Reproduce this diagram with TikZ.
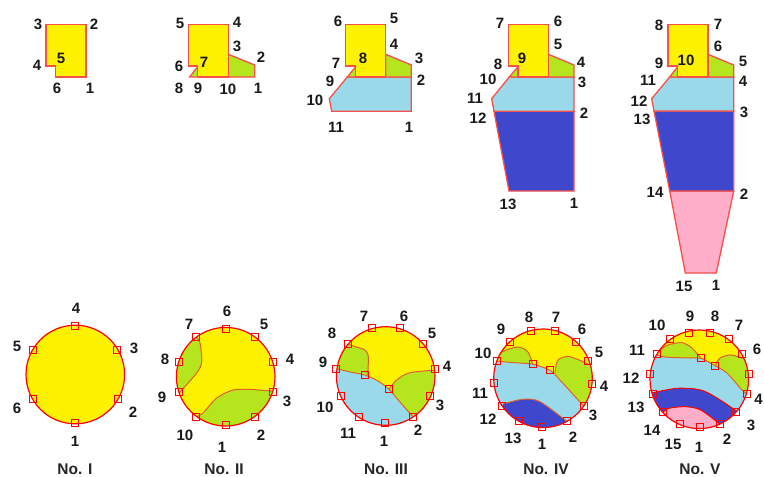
\documentclass[tikz,border=0pt]{standalone}
\usepackage{fontspec}
\setmainfont{Liberation Sans}
\definecolor{cy}{HTML}{FFF200}
\definecolor{cg}{HTML}{B5E61D}
\definecolor{cb}{HTML}{99D9EA}
\definecolor{cd}{HTML}{3F48CC}
\definecolor{cp}{HTML}{FFAEC9}
\definecolor{edgered}{HTML}{F5504A}
\definecolor{seam}{HTML}{E0602A}
\tikzset{
  lab/.style={font=\fontsize{15}{16}\selectfont\bfseries,text=black!90,inner sep=0pt},
  captext/.style={font=\fontsize{15.5}{16}\selectfont\bfseries,text=black!85,inner sep=0pt},
  sq/.style={draw=red,line width=1pt,minimum size=7.2pt,inner sep=0pt,rectangle},
  poly/.style={draw=edgered,line width=1.3pt,line join=miter},
  rim/.style={draw=red,line width=1.2pt},
  seamline/.style={draw=seam,line width=1pt}
}
\begin{document}
\begin{tikzpicture}[x=1pt,y=-1pt]
\useasboundingbox (0,0) rectangle (764,477);
\fill[white] (0,0) rectangle (764,477);
% ---- upper row: sections
% I
\filldraw[poly,fill=cy] (46,24.7)--(86,24.7)--(86,77)--(55.3,77)--(55.3,66)--(46,66)--cycle;
\foreach \x/\y/\t [count=\i] in {90/88/1,94/24/2,38/24/3,37/65/4,61/58/5,57/88/6}
  \node[lab] (sa\i) at (\x,\y) {\t};
% II
\filldraw[poly,fill=cg] (228.3,54.3)--(254.7,65)--(254.7,77)--(228.3,77)--cycle;
\filldraw[poly,fill=cg] (197.7,66.7)--(189.7,77)--(197.7,77)--cycle;
\filldraw[poly,fill=cy] (188.3,24.7)--(228.3,24.7)--(228.3,77)--(197.7,77)--(197.7,66)--(188.3,66)--cycle;
\foreach \x/\y/\t [count=\i] in {258/88/1,261/57/2,237/46/3,237/22/4,180/23/5,179/66/6,204/62/7,179/88/8,198/88/9,228/89/10}
  \node[lab] (sb\i) at (\x,\y) {\t};
% III
\filldraw[poly,fill=cb] (411.3,77)--(411.3,111.3)--(331.7,111.3)--(329.3,98.7)--(347.3,77)--cycle;
\filldraw[poly,fill=cg] (385.7,54.3)--(411.3,65)--(411.3,77)--(385.7,77)--cycle;
\filldraw[poly,fill=cg] (355.7,66.7)--(347.3,77)--(355.7,77)--cycle;
\filldraw[poly,fill=cy] (345.7,24.7)--(385.7,24.7)--(385.7,77)--(355.7,77)--(355.7,66)--(345.7,66)--cycle;
\foreach \x/\y/\t [count=\i] in {409/127/1,421/80/2,419/58/3,394/44/4,394/18/5,338/21/6,336/63/7,363/58/8,330/81/9,315/100/10,336/127/11}
  \node[lab] (sc\i) at (\x,\y) {\t};
% IV
\filldraw[poly,fill=cd] (574,111.3)--(574,191)--(509,191)--(494,111.3)--cycle;
\filldraw[poly,fill=cb] (574,77)--(574,111.3)--(494,111.3)--(491.7,98.7)--(509.3,77)--cycle;
\filldraw[poly,fill=cg] (548.3,54.3)--(574,65)--(574,77)--(548.3,77)--cycle;
\filldraw[poly,fill=cg] (518,66.7)--(509.3,77)--(518,77)--cycle;
\filldraw[poly,fill=cy] (508.3,24.7)--(548.3,24.7)--(548.3,77)--(518,77)--(518,66)--(508.3,66)--cycle;
\foreach \x/\y/\t [count=\i] in {574/203/1,584/113/2,582/82/3,581/62/4,558/44/5,558/21/6,500/23/7,498/64/8,522/58/9,488/79/10,475/98/11,478/118/12,508/204/13}
  \node[lab] (sd\i) at (\x,\y) {\t};
% V
\filldraw[poly,fill=cp] (733.7,191)--(716.3,273)--(685.3,273)--(669.7,191)--cycle;
\filldraw[poly,fill=cd] (733.7,111)--(733.7,191)--(669.7,191)--(654,111)--cycle;
\filldraw[poly,fill=cb] (733.7,77)--(733.7,111)--(654,111)--(651.7,98.7)--(669.7,77)--cycle;
\filldraw[poly,fill=cg] (708,54.3)--(733.7,65)--(733.7,77)--(708,77)--cycle;
\filldraw[poly,fill=cg] (677.7,66.7)--(669.7,77)--(677.7,77)--cycle;
\filldraw[poly,fill=cy] (668,24.7)--(708,24.7)--(708,77)--(677.7,77)--(677.7,66)--(668,66)--cycle;
\foreach \x/\y/\t [count=\i] in {716/285/1,744/194/2,744/112/3,743/81/4,743/61/5,718/46/6,718/24/7,659/25/8,659/63/9,686/60/10,648/80/11,639/101/12,642/119/13,655/192/14,684/286/15}
  \node[lab] (se\i) at (\x,\y) {\t};
% ---- lower row: plans
% I
\filldraw[rim,fill=cy] (75.3,374.5) circle (49.3);
\foreach \x/\y [count=\i] in {75/423,117.7/399,117.3/350,75.3/326.3,32.7/350,32.7/399}
  \node[sq] (qa\i) at (\x,\y) {};
\foreach \x/\y/\t [count=\i] in {75/441/1,133/412/2,134/348/3,76/308/4,17/346/5,17/408/6}
  \node[lab] (pa\i) at (\x,\y) {\t};
\node[captext] (capa) at (75,469) {No. I};
% II
\begin{scope}
\clip (225.7,376.7) circle (49.3);
\fill[cy] (170,320) rectangle (285,435);
\fill[cg] plot[smooth] coordinates {(196.5,337)(200,343)(201.7,361.7)(196.7,373)(179,393)} -- (165,390) -- (165,330) -- cycle;
\fill[cg] plot[smooth] coordinates {(196.3,416.7)(203,413)(216.7,398)(233.3,390)(252,389.5)(276,391.5)} -- (290,440) -- (190,440) -- cycle;
\draw[seamline] plot[smooth] coordinates {(196.5,337)(200,343)(201.7,361.7)(196.7,373)(179,393)};
\draw[seamline] plot[smooth] coordinates {(196.3,416.7)(203,413)(216.7,398)(233.3,390)(252,389.5)(276,391.5)};
\end{scope}
\draw[rim] (225.7,376.7) circle (49.3);
\foreach \x/\y [count=\i] in {225.7/425,255/416.7,273/391.7,273/362,255/337,225.7/328.7,196.3/337,179/362,179/391.7,196.3/416.7}
  \node[sq] (qb\i) at (\x,\y) {};
\foreach \x/\y/\t [count=\i] in {222/447/1,261/435/2,287/401/3,290/359/4,264/324/5,227/311/6,189/324/7,165/359/8,162/397/9,185/435/10}
  \node[lab] (pb\i) at (\x,\y) {\t};
\node[captext] (capb) at (224,469) {No. II};
% III
\begin{scope}
\clip (385.7,376) circle (49.3);
\fill[cy] (330,320) rectangle (445,435);
\fill[cb] plot[smooth] coordinates {(334,368)(350,372)(364.7,375)(378,381)(389,389.3)(400,402)(414,418)} -- (400,440) -- (330,440) -- cycle;
\fill[cg] plot[smooth] coordinates {(348,344.3)(358,347.5)(365,350)(368.3,356.7)(367.7,375)} -- (350,372) -- (334,368) -- (330,340) -- cycle;
\fill[cg] plot[smooth] coordinates {(389,389.3)(396.7,380)(410,372.7)(438,370)} -- (445,430) -- (414,418) -- (400,402) -- cycle;
\draw[seamline] plot[smooth] coordinates {(334,368)(350,372)(364.7,375)(378,381)(389,389.3)(400,402)(414,418)};
\draw[seamline] plot[smooth] coordinates {(348,344.3)(358,347.5)(365,350)(368.3,356.7)(367.7,375)};
\draw[seamline] plot[smooth] coordinates {(389,389.3)(396.7,380)(410,372.7)(438,370)};
\end{scope}
\draw[rim] (385.7,376) circle (49.3);
\foreach \x/\y [count=\i] in {385.3/423.3,413/416.7,430.3/395.7,435/369,423.3/344.3,399.7/328.3,371.7/328.3,348/344.3,336.3/369,340.7/395.7,358.7/416.7,364.7/375.3,389/389.3}
  \node[sq] (qc\i) at (\x,\y) {};
\foreach \x/\y/\t [count=\i] in {384/441/1,418/430/2,440/405/3,447/366/4,432/333/5,404/316/6,364/316/7,332/333/8,323/362/9,325/407/10,348/433/11}
  \node[lab] (pc\i) at (\x,\y) {\t};
\node[captext] (capc) at (386,469) {No. III};
% IV
\begin{scope}
\clip (543,378.3) circle (49.3);
\fill[cy] (485,320) rectangle (600,435);
\fill[cb] plot[smooth] coordinates {(495,361)(512,362.5)(532.7,364.3)(550,370.3)(560,380)(580,402)(586,408)} -- (580,440) -- (485,440) -- cycle;
\fill[cg] plot[smooth] coordinates {(496,360)(502,352)(518,347)(528,352)(532.7,364.3)} -- (512,362.5) -- cycle;
\fill[cg] plot[smooth] coordinates {(555,373)(558,360)(570,356.7)(592,366)} -- (605,400) -- (586,408) -- (580,402) -- cycle;
\fill[cd] plot[smooth] coordinates {(503,404)(523,399.3)(540,401.7)(566.7,421.3)} -- (570,440) -- (495,440) -- cycle;
\draw[seamline] plot[smooth] coordinates {(495,361)(512,362.5)(532.7,364.3)(550,370.3)(560,380)(580,402)(586,408)};
\draw[seamline] plot[smooth] coordinates {(496,360)(502,352)(518,347)(528,352)(532.7,364.3)};
\draw[seamline] plot[smooth] coordinates {(555,373)(558,360)(570,356.7)(592,366)};
\draw[seamline] plot[smooth] coordinates {(503,404)(523,399.3)(540,401.7)(566.7,421.3)};
\end{scope}
\draw[rim] (543,378.3) circle (49.3);
\foreach \x/\y [count=\i] in {542.3/426.7,566.7/421.3,584/405.7,592.3/383.7,588.3/361,576/341.7,555/331,531/331,510/341.7,497.3/361,493.7/383.3,502/406,519.3/421.3,532.7/364.3,550/370.3}
  \node[sq] (qd\i) at (\x,\y) {};
\foreach \x/\y/\t [count=\i] in {542/444/1,573/437/2,593/415/3,604/386/4,599/352/5,582/329/6,556/317/7,529/317/8,501/329/9,483/353/10,480/393/11,488/419/12,513/438/13}
  \node[lab] (pd\i) at (\x,\y) {\t};
\node[captext] (capd) at (546,469) {No. IV};
% V
\begin{scope}
\clip (699.3,379.3) circle (49.3);
\fill[cy] (640,320) rectangle (755,435);
\fill[cb] plot[smooth] coordinates {(655,354)(665,357)(690,358)(701,358.3)(715,365.7)(727,373)(742,390)(749,396)} -- (755,425) -- (640,425) -- (640,354) -- cycle;
\fill[cg] plot[smooth] coordinates {(659,351)(668,345)(682,342.7)(692,348)(701,358.3)} -- (690,358) -- (665,357) -- (655,354) -- cycle;
\fill[cg] plot[smooth] coordinates {(715,365.7)(720,358)(731,355)(745,359)} -- (760,400) -- (749,396) -- (742,390) -- (727,373) -- cycle;
\fill[cd] plot[smooth] coordinates {(652,393)(677,388.3)(700.7,390)(717,398)(738,412)} -- (730,440) -- (650,440) -- cycle;
\fill[cp] plot[smooth] coordinates {(662,413)(669,408.3)(685.7,406.7)(700.7,410)(719.7,424)} -- (720,440) -- (660,440) -- cycle;
\draw[seamline] plot[smooth] coordinates {(655,354)(665,357)(690,358)(701,358.3)(715,365.7)(727,373)(742,390)(749,396)};
\draw[seamline] plot[smooth] coordinates {(659,351)(668,345)(682,342.7)(692,348)(701,358.3)};
\draw[seamline] plot[smooth] coordinates {(715,365.7)(720,358)(731,355)(745,359)};
\draw[draw=red,line width=1pt] plot[smooth] coordinates {(652,393)(677,388.3)(700.7,390)(717,398)(738,412)};
\draw[draw=red,line width=1pt] plot[smooth] coordinates {(662,413)(669,408.3)(685.7,406.7)(700.7,410)(719.7,424)};
\end{scope}
\draw[rim] (699.3,379.3) circle (49.3);
\foreach \x/\y [count=\i] in {699.7/427.3,719.7/424,736.3/411.7,747/394,749/373.7,742/354.3,729/339.3,710/332.7,689/332.7,670/339.3,657.3/354.3,650/373.7,652.7/394,663.3/412,679.7/424,701/358.3,715/365.7}
  \node[sq] (qe\i) at (\x,\y) {};
\foreach \x/\y/\t [count=\i] in {699/447/1,727/439/2,751/425/3,758.5/399/4,757/349/6,739/325/7,715/316/8,690/316/9,657/325/10,637/350/11,631/378/12,636/407/13,652/430/14,673/444/15}
  \node[lab] (pe\i) at (\x,\y) {\t};
\node[captext] (cape) at (700,469) {No. V};
\end{tikzpicture}
\end{document}
